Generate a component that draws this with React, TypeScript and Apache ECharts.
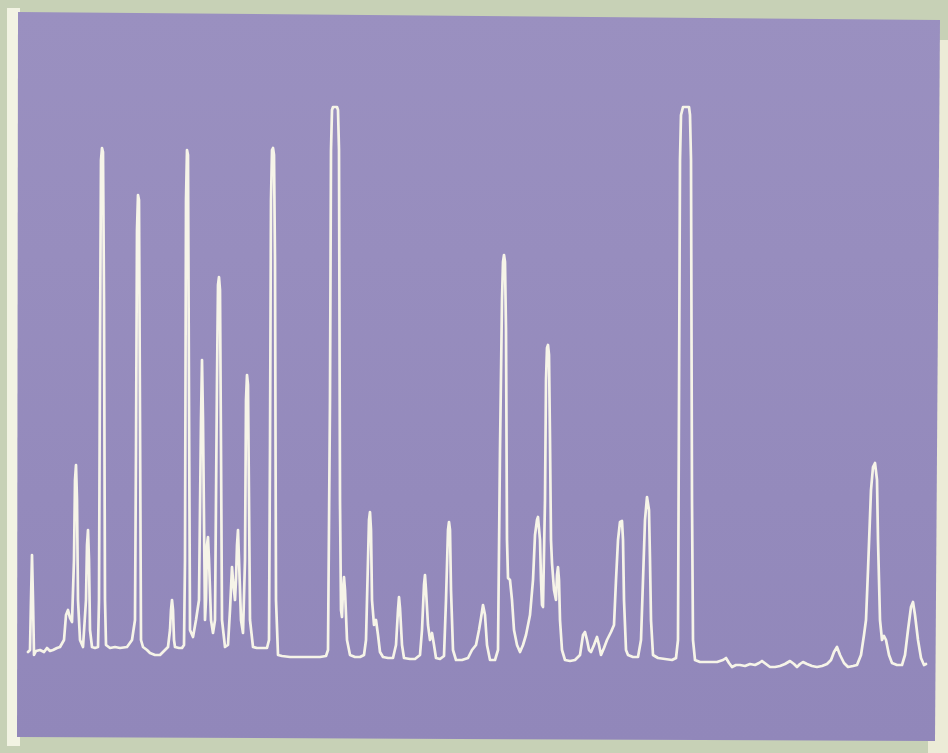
import React, { useEffect, useRef } from "react";
import * as echarts from "echarts";

// Chromatogram trace: retention position (x) and trace level (y, read downward from the frame top)
const retention: number[] = [
  28, 30, 31, 32, 33, 34, 36, 40, 44, 47, 50, 53, 57, 60, 64, 66, 68, 70, 72, 74, 75, 76, 77, 78, 80, 83, 86, 87, 88, 89, 90, 92, 95, 98,
  99, 100, 101, 102, 103, 104, 105, 106, 110, 115, 120, 127, 132, 135, 136, 137, 138, 139, 140, 141, 143, 147, 150, 155, 160, 165, 168, 170, 171, 172, 173, 174, 175, 179, 182, 184, 185, 186, 187, 188, 189, 190, 193, 196, 199,
  201, 202, 203, 205, 206, 207, 208, 209, 211, 213, 215, 217, 218, 219, 220, 221, 222, 225, 228, 230, 232, 233, 235, 236, 237, 238, 239, 241, 243, 245, 246, 247, 248, 249, 250, 253, 257, 262, 267, 269, 270, 271, 272, 273, 274, 275, 276, 278, 282, 290,
  300, 310, 320, 326, 328, 330, 331, 332, 333, 337, 338, 339, 340, 341, 342, 343, 344, 345, 347, 350, 355, 360, 364, 366, 368, 369, 370, 371, 372, 374, 376, 378, 380, 383, 388, 393, 396, 398, 399,
  400, 402, 404, 410, 415, 420, 422, 424, 425, 426, 428, 430, 432, 434, 436, 440, 444, 446, 448, 449, 450, 451, 453, 456, 462, 468, 472, 476, 479, 481, 483, 485, 487, 490, 495, 498,
  500, 502, 503, 504, 505, 506, 507, 508, 510, 512, 514, 517, 520, 523, 526, 530, 533, 535, 537, 538, 540, 541, 542, 543, 545, 546, 547, 548, 549, 550, 551, 552, 554, 556, 557, 558, 559, 560, 562, 565, 570, 575, 580, 583, 585, 587, 589, 591, 594, 597, 599,
  601, 604, 607, 611, 614, 616, 618, 620, 622, 623, 624, 626, 628, 633, 638, 641, 643, 645, 647, 649, 650, 651, 653, 658, 665, 672, 676, 678, 679, 680, 681, 683, 689, 690, 691, 692, 693, 695,
  700, 710, 717, 720, 723, 726, 729, 732, 736, 740, 745, 750, 755, 759, 762, 766, 770, 775, 780, 785, 790, 794, 797,
  800, 803, 807, 812, 817, 822, 827, 831, 834, 837, 840, 844, 848, 853, 857, 861, 864, 866, 868, 871, 873, 875, 877, 878, 880, 882, 884, 886, 889, 892, 897,
  902, 905, 908, 911, 913, 915, 918, 921, 924, 926,
];

const traceLevel: number[] = [
  652, 650, 600, 555, 600, 655, 651, 650, 652, 648, 651, 650, 648, 647, 640, 615, 610, 618, 622, 560, 480, 465, 500, 600, 640, 647, 600, 545, 530, 560, 630, 647, 648, 647,
  600, 350, 160, 148, 152, 300, 600, 645, 648, 647, 648, 647, 640, 620, 450, 230, 195, 200, 420, 640, 647, 650, 653, 655, 655, 650, 647, 630, 610, 600, 610, 640, 647, 648, 648, 645, 560, 200, 150, 155, 400, 630, 637, 620, 600,
  420, 360, 420, 620, 600, 545, 537, 560, 620, 633, 620, 380, 285, 277, 290, 450, 620, 647, 645, 610, 567, 580, 600, 580, 545, 530, 560, 620, 633, 560, 400, 375, 385, 500, 620, 647, 648, 648, 648, 640, 450, 200, 150, 148, 155, 260, 600, 655, 656, 657,
  657, 657, 657, 656, 650, 400, 150, 110, 107, 107, 110, 150, 500, 610, 617, 590, 577, 590, 640, 655, 657, 657, 655, 640, 560, 520, 512, 530, 600, 625, 620, 635, 652, 657, 658, 658, 645, 610, 597,
  608, 645, 658, 659, 659, 655, 630, 585, 575, 590, 625, 640, 633, 645, 658, 659, 656, 600, 530, 522, 530, 590, 650, 660, 660, 658, 650, 645, 630, 618, 605, 615, 645, 660, 660, 650,
  450, 300, 262, 255, 262, 330, 540, 578, 580, 600, 630, 645, 652, 645, 635, 615, 580, 535, 520, 517, 540, 580, 605, 607, 500, 380, 348, 345, 355, 440, 540, 563, 590, 600, 575, 567, 580, 620, 650, 660, 661, 660, 655, 635, 632, 640, 650, 652, 645, 637, 645,
  655, 648, 640, 632, 625, 580, 540, 522, 521, 540, 600, 650, 655, 657, 657, 640, 580, 520, 497, 510, 560, 620, 655, 658, 659, 660, 658, 640, 400, 160, 115, 107, 107, 115, 160, 500, 640, 660,
  662, 662, 662, 661, 660, 658, 663, 667, 665, 665, 666, 664, 665, 663, 661, 664, 667, 667, 666, 664, 661, 664, 667,
  664, 662, 664, 666, 667, 666, 664, 660, 652, 647, 655, 663, 667, 666, 665, 655, 635, 620, 570, 490, 467, 463, 480, 540, 620, 640, 636, 640, 655, 663, 665,
  665, 655, 630, 607, 602, 615, 640, 658, 665, 664,
];

const FRAME_HEIGHT = 753;
const response: number[] = traceLevel.map((v) => FRAME_HEIGHT - v);

export default function App() {
  const ref = useRef<HTMLDivElement>(null);

  useEffect(() => {
    if (!ref.current) return;
    const chart = echarts.init(ref.current, undefined, { renderer: "svg" });
    const data = retention.map((t, i) => [t, response[i]]);
    chart.setOption({
      animation: false,
      backgroundColor: "#c7d1b6",
      grid: { left: 0, right: 0, top: 0, bottom: 0 },
      xAxis: { type: "value", min: 0, max: 948, show: false },
      yAxis: { type: "value", min: 0, max: FRAME_HEIGHT, show: false },
      graphic: [
        {
          type: "rect",
          z: 0,
          shape: { x: 7, y: 8, width: 13, height: 738 },
          style: { fill: "#f2f3e3" },
        },
        {
          type: "rect",
          z: 0,
          shape: { x: 928, y: 40, width: 20, height: 713 },
          style: { fill: "#ecebd7" },
        },
        {
          type: "polygon",
          z: 1,
          shape: {
            points: [
              [18, 12],
              [940, 20],
              [935, 741],
              [17, 737],
            ],
          },
          style: {
            fill: {
              type: "linear",
              x: 0,
              y: 0,
              x2: 0,
              y2: 1,
              colorStops: [
                { offset: 0, color: "#9a90c0" },
                { offset: 1, color: "#9187ba" },
              ],
            },
          },
        },
      ],
      series: [
        {
          type: "line",
          z: 5,
          data,
          symbol: "none",
          silent: true,
          lineStyle: {
            color: "#f6f4e8",
            width: 2.7,
            join: "round",
            cap: "round",
          },
        },
      ],
    });
    return () => chart.dispose();
  }, []);

  return (
    <div
      ref={ref}
      style={{ position: "absolute", left: 0, top: 0, width: 948, height: 753 }}
    />
  );
}
